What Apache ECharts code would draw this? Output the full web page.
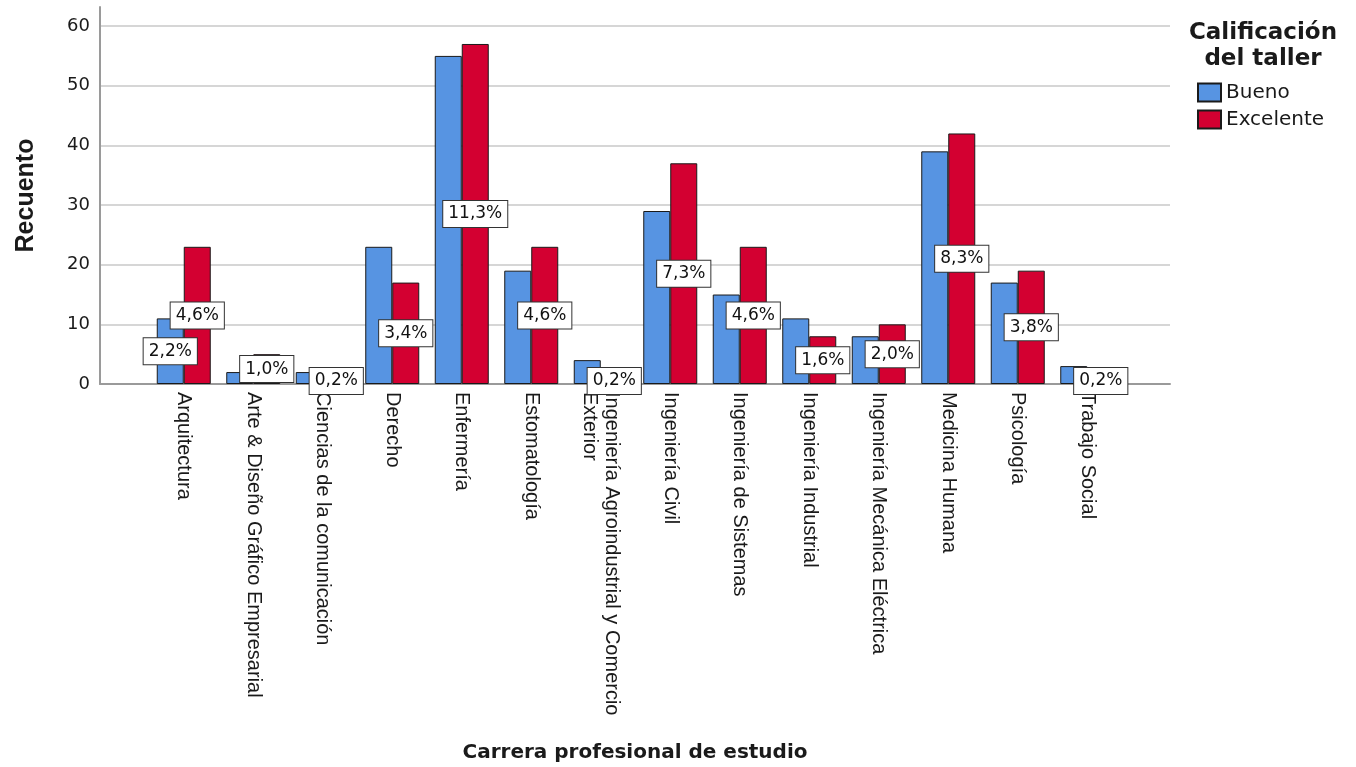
<!DOCTYPE html>
<html><head><meta charset="utf-8">
<script src="https://cdn.jsdelivr.net/npm/echarts@6/dist/echarts.min.js"></script>
<style>html,body{margin:0;padding:0;background:#fff}#c{width:1356px;height:767px}</style>
</head><body><div id="c"></div>
<script>
const categories = ['Arquitectura','Arte & Diseño Gráfico Empresarial','Ciencias de la comunicación','Derecho','Enfermería','Estomatología','Ingeniería Agroindustrial y Comercio Exterior','Ingeniería Civil','Ingeniería de Sistemas','Ingeniería Industrial','Ingeniería Mecánica Eléctrica','Medicina Humana','Psicología','Trabajo Social'];
const seriesNames = ['Bueno','Excelente'];
const bueno = [11,2,2,23,55,19,4,29,15,11,8,39,17,3];
const excelente = [23,5,1,17,57,23,1,37,23,8,10,42,19,1];
const buenoLabels = ['2,2%','','','','','','','','','','','','',''];
const excelenteLabels = ['4,6%','1,0%','0,2%','3,4%','11,3%','4,6%','0,2%','7,3%','4,6%','1,6%','2,0%','8,3%','3,8%','0,2%'];
const yMin = 0, yMax = 63.2, yStep = 10;

const TXT = '#1a1a1a';
const labelBox = {
  position:'inside', backgroundColor:'#fff', borderColor:'#333', borderWidth:1,
  padding:[5,5,4,5], fontFamily:'DejaVu Sans', fontSize:17, color:'#111'
};
function items(vals, labels){ return vals.map((v,i)=>({value:v, label:{show: labels[i] !== ''}})); }

const chart = echarts.init(document.getElementById('c'));
chart.setOption({
  animation:false,
  backgroundColor:'#fff',
  grid:[
    {left:100, right:186, top:7, bottom:383},
    {left:149, right:234, top:7, bottom:383}
  ],
  xAxis:[
    {gridIndex:0, type:'value', min:0, max:1,
     axisLine:{show:true, lineStyle:{color:'#9a9a9a', width:2}},
     axisTick:{show:false}, axisLabel:{show:false}, splitLine:{show:false},
     name:'Carrera profesional de estudio', nameLocation:'middle', nameGap:359,
     nameTextStyle:{fontFamily:'DejaVu Sans', fontWeight:'bold', fontSize:20, color:TXT}},
    {gridIndex:1, type:'category', data:categories,
     axisLine:{show:false}, axisTick:{show:false},
     axisLabel:{interval:0, rotate:-90, margin:8, fontFamily:'Liberation Sans', fontSize:20,
       color:TXT, width:365, overflow:'break', lineHeight:22}}
  ],
  yAxis:[
    {gridIndex:0, type:'value', min:yMin, max:yMax, interval:yStep,
     axisLine:{show:true, lineStyle:{color:'#9a9a9a', width:2}},
     axisTick:{show:false},
     axisLabel:{showMaxLabel:false, margin:10, fontFamily:'DejaVu Sans', fontSize:18, color:TXT,
       padding:[6,0,0,0], formatter:v => (v % yStep === 0 ? String(v) : '')},
     splitLine:{show:true, showMinLine:false, showMaxLine:false, lineStyle:{color:'#d6d6d6', width:2}},
     name:'Recuento', nameLocation:'middle', nameGap:61,
     nameTextStyle:{fontFamily:'Liberation Sans', fontWeight:'bold', fontSize:25, color:TXT}},
    {gridIndex:1, type:'value', min:yMin, max:yMax, interval:yStep, show:false}
  ],
  legend:{orient:'vertical', left:1197, top:81, padding:0, itemWidth:23, itemHeight:18, itemGap:4,
    icon:'rect', selectedMode:false, data:seriesNames,
    textStyle:{fontFamily:'DejaVu Sans', fontSize:20, color:TXT, lineHeight:20, padding:[3,0,0,0]}},
  graphic:[{type:'text', x:1263, y:20,
    style:{text:'Calificación\ndel taller', align:'center', verticalAlign:'top',
      fontFamily:'DejaVu Sans', fontWeight:'bold', fontSize:23, lineHeight:26, fill:TXT}}],
  series:[
    {name:seriesNames[0], type:'bar', xAxisIndex:1, yAxisIndex:1, data:items(bueno, buenoLabels),
     barWidth:27, barGap:'0%',
     itemStyle:{color:'#5794e2', borderColor:'#1a1a1a', borderWidth:1},
     label:Object.assign({show:false, formatter:p => buenoLabels[p.dataIndex]}, labelBox)},
    {name:seriesNames[1], type:'bar', xAxisIndex:1, yAxisIndex:1, data:items(excelente, excelenteLabels),
     barWidth:27, barGap:'0%',
     itemStyle:{color:'#d30031', borderColor:'#1a1a1a', borderWidth:1},
     label:Object.assign({show:false, formatter:p => excelenteLabels[p.dataIndex]}, labelBox)}
  ]
});
</script></body></html>
